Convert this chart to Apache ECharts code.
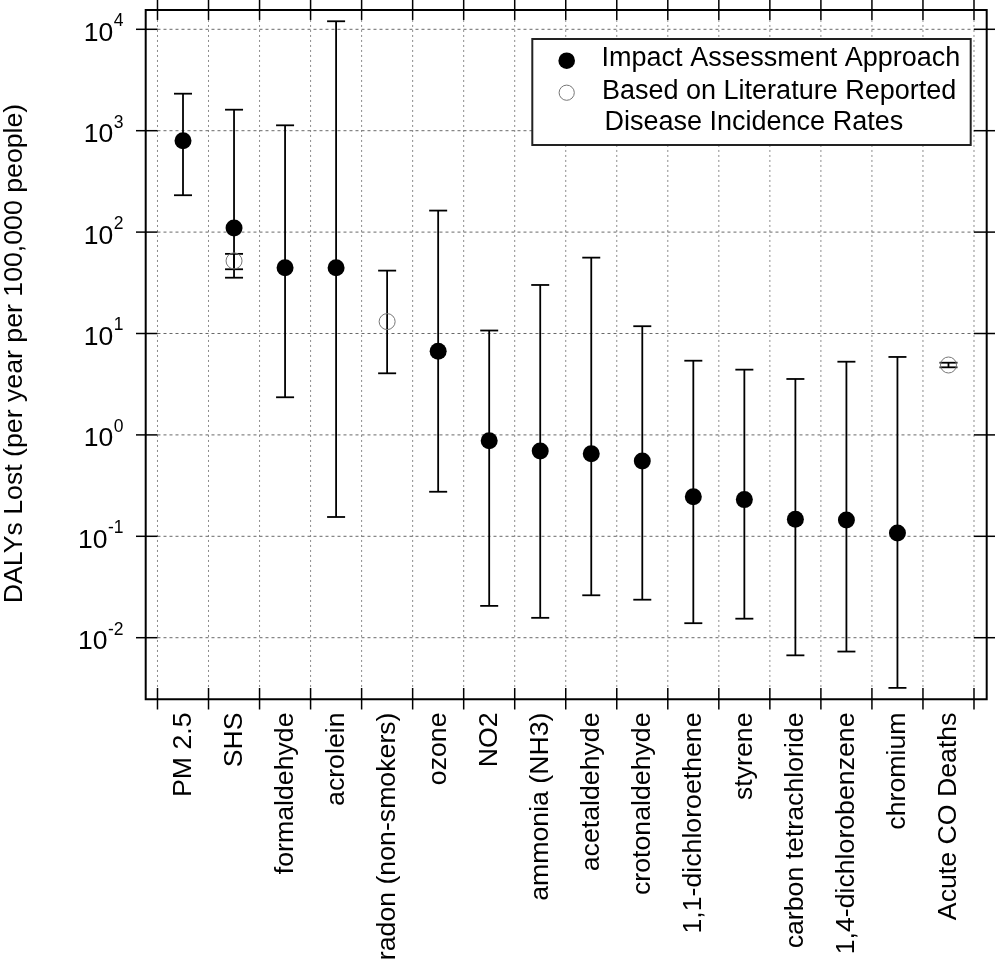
<!DOCTYPE html>
<html><head><meta charset="utf-8">
<script src="https://cdn.jsdelivr.net/npm/echarts@6/dist/echarts.min.js"></script>
<style>html,body{margin:0;padding:0;background:#fff;}#chart{width:995px;height:961px;}</style>
</head><body><div id="chart"></div>
<script>
// ---------- data ----------
const categories = ['PM 2.5','SHS','formaldehyde','acrolein','radon (non-smokers)','ozone','NO2','ammonia (NH3)','acetaldehyde','crotonaldehyde','1,1-dichloroethene','styrene','carbon tetrachloride','1,4-dichlorobenzene','chromium','Acute CO Deaths'];
// Impact Assessment Approach (filled circles); category position is 1-based
const impactCategory = [1,2,3,4,6,7,8,9,10,11,12,13,14,15];
const impactValue = [796,110,44.6,44.6,6.67,0.877,0.694,0.653,0.553,0.246,0.230,0.147,0.145,0.108];
const impactLow   = [231,35.5,2.35,0.155,0.275,0.0206,0.0157,0.0262,0.0237,0.0139,0.0154,0.0067,0.0073,0.0032];
const impactHigh  = [2317,1611,1130,12000,163,10.7,30.1,56,11.8,5.39,4.40,3.56,5.27,5.87];
// Based on Literature Reported Disease Incidence Rates (open circles)
const literatureCategory = [2,5,16];
const literatureValue = [52,13.1,4.89];
const literatureLow   = [43,4.05,4.64];
const literatureHigh  = [61,41.7,5.15];
// y tick labels: powers of ten
const yTickExponents = [-2,-1,0,1,2,3,4];
const yTitle = 'DALYs Lost (per year per 100,000 people)';
const legendLabels = ['Impact Assessment Approach', 'Based on Literature Reported', 'Disease Incidence Rates'];

// ---------- layout constants ----------
const FONT = '"Liberation Sans", Arial, Helvetica, sans-serif';
const LABEL_SIZE = 26.7, TICK_SIZE = 26.5, SUP_SIZE = 17.5, LEGEND_SIZE = 27;
const Y_MIN = Math.pow(10, -2.6075), Y_MAX = Math.pow(10, 4.1903);
const X_MIN = 0.269, X_MAX = 16.749;
const INNER_TOP = Math.pow(10, 4.092), INNER_BOTTOM = Math.pow(10, -2.496);
const TICK = 21.5;

const measureCtx = document.createElement('canvas').getContext('2d');
function textWidth(str, size) { measureCtx.font = size + 'px ' + FONT; return measureCtx.measureText(str).width; }

const impactPoints = impactCategory.map((c, i) => [c, impactValue[i]]);
const impactBars = impactCategory.map((c, i) => [c, impactLow[i], impactHigh[i]]);
const litPoints = literatureCategory.map((c, i) => [c, literatureValue[i]]);
const litBars = literatureCategory.map((c, i) => [c, literatureLow[i], literatureHigh[i]]);

function renderErrorBar(params, api) {
  const x = api.value(0);
  const pHi = api.coord([x, api.value(2)]);
  const pLo = api.coord([x, api.value(1)]);
  const half = 9;
  const st = { stroke: '#000', lineWidth: 1.8 };
  return { type: 'group', children: [
    { type: 'line', shape: { x1: pHi[0], y1: pHi[1], x2: pLo[0], y2: pLo[1] }, style: st },
    { type: 'line', shape: { x1: pHi[0] - half, y1: pHi[1], x2: pHi[0] + half, y2: pHi[1] }, style: st },
    { type: 'line', shape: { x1: pLo[0] - half, y1: pLo[1], x2: pLo[0] + half, y2: pLo[1] }, style: st }
  ]};
}

function renderAxes(params, api) {
  const children = [];
  const n = categories.length;
  const xL = 0.5, xR = n + 0.5;
  const gridV = { stroke: '#8a8a8a', lineWidth: 1, lineDash: [2, 3] };
  const gridH = { stroke: '#6a6a6a', lineWidth: 1, lineDash: [3, 3] };
  const tickSt = { stroke: '#000', lineWidth: 1.5 };
  for (let i = 0; i <= n; i++) {
    const b = i + 0.5;
    const pT = api.coord([b, INNER_TOP]);
    const pB = api.coord([b, INNER_BOTTOM]);
    children.push({ type: 'line', z2: 1, shape: { x1: pT[0], y1: pT[1], x2: pB[0], y2: pB[1] }, style: gridV });
    children.push({ type: 'line', z2: 5, shape: { x1: pT[0], y1: pT[1], x2: pT[0], y2: pT[1] - TICK }, style: tickSt });
    children.push({ type: 'line', z2: 5, shape: { x1: pB[0], y1: pB[1], x2: pB[0], y2: pB[1] + TICK }, style: tickSt });
  }
  yTickExponents.forEach(e => {
    const v = Math.pow(10, e);
    const pL = api.coord([xL, v]);
    const pR = api.coord([xR, v]);
    children.push({ type: 'line', z2: 1, shape: { x1: pL[0], y1: pL[1], x2: pR[0], y2: pR[1] }, style: gridH });
    children.push({ type: 'line', z2: 5, shape: { x1: pL[0], y1: pL[1], x2: pL[0] - TICK, y2: pL[1] }, style: tickSt });
    children.push({ type: 'line', z2: 5, shape: { x1: pR[0], y1: pR[1], x2: pR[0] + TICK, y2: pR[1] }, style: tickSt });
    const sup = String(e);
    const rightEdge = pL[0] - TICK - 12.5;
    const supX = rightEdge - textWidth(sup, SUP_SIZE);
    children.push({ type: 'text', z2: 5, x: supX, y: pL[1] - 8, style: { text: sup, fontSize: SUP_SIZE, fontFamily: FONT, fill: '#000', align: 'left', verticalAlign: 'middle' } });
    children.push({ type: 'text', z2: 5, x: supX - 0.5, y: pL[1] + 4.2, style: { text: '10', fontSize: TICK_SIZE, fontFamily: FONT, fill: '#000', align: 'right', verticalAlign: 'middle' } });
  });
  categories.forEach((name, i) => {
    const p = api.coord([i + 1, INNER_BOTTOM]);
    children.push({ type: 'text', z2: 5, x: p[0] + 0.5, y: p[1] + 24.5, rotation: Math.PI / 2,
      style: { text: name, fontSize: LABEL_SIZE, fontFamily: FONT, fill: '#000', align: 'right', verticalAlign: 'middle' } });
  });
  return { type: 'group', children };
}

const chart = echarts.init(document.getElementById('chart'), null, { renderer: 'canvas' });
chart.setOption({
  animation: false,
  backgroundColor: '#fff',
  grid: { left: 145.7, top: 10, width: 841, height: 689.3, show: true, borderColor: '#000', borderWidth: 2, backgroundColor: 'transparent' },
  xAxis: { type: 'value', min: X_MIN, max: X_MAX, show: false },
  yAxis: { type: 'log', logBase: 10, min: Y_MIN, max: Y_MAX, show: false },
  graphic: [
    { type: 'rect', z: 100, shape: { x: 532.3, y: 39, width: 438.4, height: 106 }, style: { fill: '#fff', stroke: '#222', lineWidth: 2 } },
    { type: 'circle', z: 101, shape: { cx: 566.7, cy: 60.7, r: 8.3 }, style: { fill: '#000' } },
    { type: 'circle', z: 101, shape: { cx: 566.7, cy: 92.7, r: 7.6 }, style: { fill: '#fff', stroke: '#777', lineWidth: 1 } },
    { type: 'text', z: 101, x: 601.6, y: 58.3, style: { text: legendLabels[0], fontSize: LEGEND_SIZE, fontFamily: FONT, fill: '#000', align: 'left', verticalAlign: 'middle' } },
    { type: 'text', z: 101, x: 602.0, y: 91.2, style: { text: legendLabels[1], fontSize: LEGEND_SIZE, fontFamily: FONT, fill: '#000', align: 'left', verticalAlign: 'middle' } },
    { type: 'text', z: 101, x: 604.5, y: 123, style: { text: legendLabels[2], fontSize: LEGEND_SIZE, fontFamily: FONT, fill: '#000', align: 'left', verticalAlign: 'middle' } },
    { type: 'text', z: 101, x: 15, y: 353.5, rotation: Math.PI / 2, style: { text: yTitle, fontSize: LABEL_SIZE, fontFamily: FONT, fill: '#000', align: 'center', verticalAlign: 'middle' } }
  ],
  series: [
    { type: 'custom', name: 'axes', renderItem: renderAxes, data: [[1, 1]], encode: { x: 0, y: 1 }, clip: false, silent: true, z: 1 },
    { type: 'custom', name: 'impactBars', renderItem: renderErrorBar, data: impactBars, encode: { x: 0, y: [1, 2] }, clip: false, z: 3 },
    { type: 'custom', name: 'litBars', renderItem: renderErrorBar, data: litBars, encode: { x: 0, y: [1, 2] }, clip: false, z: 3 },
    { type: 'scatter', name: 'Impact Assessment Approach', data: impactPoints, symbol: 'circle', symbolSize: 17, itemStyle: { color: '#000', opacity: 1 }, z: 4 },
    { type: 'scatter', name: 'Based on Literature Reported Disease Incidence Rates', data: litPoints, symbol: 'circle', symbolSize: 16, itemStyle: { color: 'transparent', borderColor: '#777', borderWidth: 1, opacity: 1 }, z: 4 }
  ]
});
</script></body></html>
